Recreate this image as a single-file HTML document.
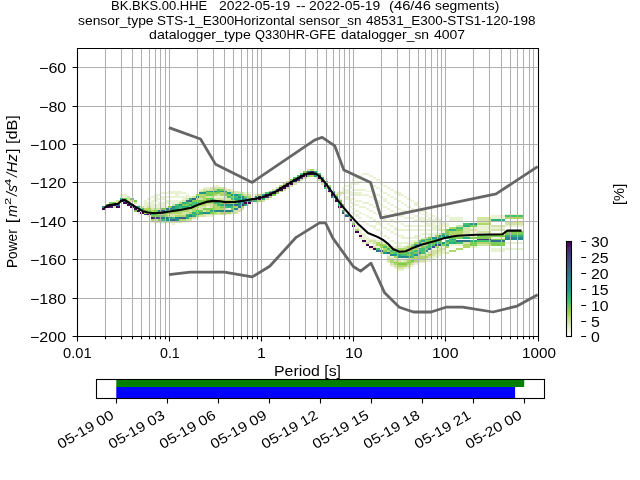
<!DOCTYPE html>
<html><head><meta charset="utf-8"><title>PPSD BK.BKS.00.HHE</title>
<style>
html,body{margin:0;padding:0;background:#fff}
body{width:640px;height:480px;position:relative;overflow:hidden;font-family:"Liberation Sans",sans-serif;color:#000}
.t{position:absolute;white-space:pre;line-height:1;transform-origin:0 0;margin:0;padding:0}
#tx{position:absolute;left:0;top:0;width:640px;height:480px;will-change:transform}
i{font-style:italic}
sup{font-size:70%;vertical-align:baseline;position:relative;top:-0.42em;line-height:0}
</style></head><body>
<svg width="640" height="480" viewBox="0 0 640 480" style="position:absolute;left:0;top:0">
<rect width="640" height="480" fill="#fff"/>
<g shape-rendering="crispEdges">
<path fill="#20968b" d="M154 212h4v2h-4zM165 219h3v2h-3zM168 217h4v2h-4zM172 208h3v2h-3zM175 219h4v2h-4zM179 204h3v2h-3zM199 192h4v2h-4zM203 192h3v2h-3zM206 212h4v2h-4zM210 191h3v1h-3zM213 210h4v2h-4zM213 191h4v1h-4zM220 191h4v1h-4zM224 204h3v2h-3zM227 192h4v2h-4zM227 204h4v2h-4zM231 210h3v2h-3zM231 194h3v2h-3zM234 194h4v2h-4zM238 204h3v2h-3zM238 196h3v2h-3zM238 202h3v2h-3zM241 202h3v2h-3zM241 198h3v2h-3zM241 200h3v2h-3zM244 198h4v2h-4zM248 200h3v2h-3zM255 196h3v2h-3zM262 194h3v2h-3zM314 175h3v2h-3zM383 252h4v2h-4zM394 254h3v2h-3zM397 256h4v2h-4zM407 256h4v2h-4zM414 254h4v2h-4zM418 252h3v2h-3zM425 250h3v2h-3zM432 237h3v2h-3zM435 237h4v2h-4zM439 235h3v2h-3zM442 242h4v2h-4zM442 235h4v2h-4zM102 206h4v2h-4zM120 198h3v2h-3zM127 202h3v2h-3zM130 204h4v2h-4zM470 223h3v2h-3zM473 223h4v2h-4z"/>
<path fill="#25868d" d="M158 210h3v2h-3zM165 208h3v2h-3zM168 219h4v2h-4zM168 208h4v2h-4zM172 206h3v2h-3zM175 217h4v2h-4zM189 215h3v2h-3zM196 196h3v2h-3zM203 212h3v2h-3zM217 210h3v2h-3zM220 210h4v2h-4zM224 210h3v2h-3zM231 204h3v2h-3zM234 208h4v2h-4zM241 196h3v2h-3zM324 183h4v2h-4zM390 254h4v2h-4zM401 256h3v2h-3zM404 256h3v2h-3zM505 237h3v2h-3zM505 239h3v1h-3zM508 237h4v2h-4zM508 239h4v1h-4zM512 237h3v2h-3zM512 239h3v1h-3zM515 237h3v2h-3zM515 239h3v1h-3zM518 237h5v2h-5zM518 239h5v1h-5z"/>
<path fill="#2c748e" d="M161 217h4v2h-4zM161 210h4v2h-4zM165 217h3v2h-3zM186 200h3v2h-3zM196 214h3v1h-3zM227 210h4v2h-4zM238 206h3v2h-3zM272 191h4v1h-4zM276 189h3v2h-3zM307 171h3v2h-3zM331 196h4v2h-4zM376 250h4v2h-4zM387 252h3v2h-3zM428 248h4v2h-4zM116 204h4v2h-4zM123 200h4v2h-4zM456 240h3v2h-3zM459 240h4v2h-4zM463 240h3v2h-3zM466 240h4v2h-4zM491 240h3v2h-3zM494 240h4v2h-4zM498 240h3v2h-3zM501 240h4v2h-4z"/>
<path fill="#2caf7f" d="M137 206h3v2h-3zM151 214h3v1h-3zM158 212h3v2h-3zM165 210h3v2h-3zM175 206h4v2h-4zM175 208h4v2h-4zM182 202h4v2h-4zM182 206h4v2h-4zM186 215h3v2h-3zM186 217h3v2h-3zM186 206h3v2h-3zM189 214h3v1h-3zM189 198h3v2h-3zM189 204h3v2h-3zM192 215h4v2h-4zM192 212h4v2h-4zM196 202h3v2h-3zM199 212h4v2h-4zM206 191h4v1h-4zM210 210h3v2h-3zM220 204h4v2h-4zM224 191h3v1h-3zM227 206h4v2h-4zM234 198h4v2h-4zM238 198h3v2h-3zM244 204h4v2h-4zM244 200h4v2h-4zM251 200h4v2h-4zM262 198h3v2h-3zM314 171h3v2h-3zM321 177h3v2h-3zM328 187h3v2h-3zM335 196h3v2h-3zM338 204h4v2h-4zM342 210h3v2h-3zM397 254h4v2h-4zM414 244h4v2h-4zM418 242h3v2h-3zM421 240h4v2h-4zM425 239h3v1h-3zM428 239h4v1h-4zM134 206h3v2h-3zM446 235h3v2h-3zM446 237h3v2h-3zM446 240h3v2h-3zM446 244h3v2h-3zM449 229h4v2h-4zM449 239h4v1h-4zM449 242h4v2h-4zM453 229h3v2h-3zM453 239h3v1h-3zM453 242h3v2h-3zM463 225h3v2h-3zM463 237h3v2h-3zM466 225h4v2h-4zM466 237h4v2h-4zM470 240h3v2h-3zM473 240h4v2h-4zM491 219h3v2h-3zM494 219h4v2h-4zM498 219h3v2h-3zM501 219h4v2h-4zM505 235h3v2h-3zM508 235h4v2h-4zM512 235h3v2h-3zM515 235h3v2h-3zM518 235h5v2h-5z"/>
<path fill="#34618d" d="M158 217h3v2h-3zM172 219h3v2h-3zM179 217h3v2h-3zM182 217h4v2h-4zM189 200h3v2h-3zM192 198h4v2h-4zM234 204h4v2h-4zM328 189h3v2h-3zM331 192h4v2h-4zM335 198h3v2h-3zM345 215h4v2h-4zM380 250h3v2h-3z"/>
<path fill="#3e4b89" d="M269 192h3v2h-3zM321 179h3v2h-3zM342 212h3v2h-3zM432 246h3v2h-3zM435 244h4v2h-4zM439 244h3v2h-3z"/>
<path fill="#440154" d="M137 210h3v2h-3zM140 212h4v2h-4zM147 214h4v1h-4zM244 202h4v2h-4zM248 202h3v2h-3zM251 198h4v2h-4zM255 198h3v2h-3zM258 196h4v2h-4zM258 198h4v2h-4zM262 196h3v2h-3zM265 194h4v2h-4zM269 194h3v2h-3zM272 192h4v2h-4zM276 191h3v1h-3zM279 189h4v2h-4zM283 185h3v2h-3zM283 187h3v2h-3zM286 183h4v2h-4zM286 185h4v2h-4zM290 181h3v2h-3zM290 183h3v2h-3zM293 179h4v2h-4zM297 177h3v2h-3zM300 175h3v2h-3zM303 173h4v2h-4zM303 175h4v2h-4zM307 173h3v2h-3zM310 173h4v2h-4zM314 173h3v2h-3zM317 177h4v2h-4zM321 181h3v2h-3zM324 185h4v2h-4zM328 191h3v1h-3zM331 194h4v2h-4zM335 200h3v2h-3zM338 206h4v2h-4zM349 219h3v2h-3zM352 225h3v2h-3zM355 231h4v2h-4zM359 235h3v2h-3zM362 240h4v2h-4zM366 244h3v2h-3zM369 246h4v2h-4zM373 248h3v2h-3zM102 208h4v2h-4zM106 206h3v2h-3zM113 204h3v2h-3zM116 206h4v2h-4zM120 200h3v2h-3zM123 202h4v2h-4zM127 204h3v2h-3zM130 206h4v2h-4zM134 208h3v2h-3z"/>
<path fill="#44367f" d="M144 214h3v1h-3zM154 217h4v2h-4zM241 204h3v2h-3zM265 196h4v2h-4zM279 187h4v2h-4zM297 179h3v2h-3zM300 177h3v2h-3zM310 171h4v2h-4zM317 175h4v2h-4zM477 239h3v1h-3zM480 239h4v1h-4zM484 239h3v1h-3zM487 239h4v1h-4z"/>
<path fill="#45c070" d="M140 208h4v2h-4zM161 219h4v2h-4zM172 217h3v2h-3zM175 204h4v2h-4zM179 206h3v2h-3zM179 208h3v2h-3zM186 202h3v2h-3zM186 214h3v1h-3zM192 214h4v1h-4zM192 202h4v2h-4zM192 204h4v2h-4zM196 210h3v2h-3zM210 198h3v2h-3zM213 202h4v2h-4zM217 189h3v2h-3zM217 191h3v1h-3zM217 202h3v2h-3zM217 204h3v2h-3zM224 206h3v2h-3zM227 196h4v2h-4zM231 198h3v2h-3zM231 206h3v2h-3zM234 196h4v2h-4zM238 194h3v2h-3zM248 198h3v2h-3zM255 200h3v2h-3zM265 192h4v2h-4zM293 177h4v2h-4zM297 175h3v2h-3zM300 173h3v2h-3zM317 173h4v2h-4zM324 187h4v2h-4zM324 181h4v2h-4zM331 191h4v1h-4zM338 202h4v2h-4zM345 214h4v1h-4zM376 248h4v2h-4zM383 246h4v2h-4zM387 248h3v2h-3zM390 250h4v2h-4zM394 252h3v2h-3zM401 254h3v2h-3zM404 254h3v2h-3zM407 252h4v2h-4zM411 254h3v2h-3zM411 256h3v2h-3zM411 252h3v2h-3zM414 250h4v2h-4zM418 248h3v2h-3zM418 250h3v2h-3zM421 250h4v2h-4zM421 252h4v2h-4zM421 248h4v2h-4zM425 246h3v2h-3zM428 246h4v2h-4zM428 244h4v2h-4zM432 244h3v2h-3zM432 239h3v1h-3zM435 242h4v2h-4zM435 239h4v1h-4zM439 242h3v2h-3zM439 237h3v2h-3zM442 233h4v2h-4zM449 240h4v2h-4zM453 240h3v2h-3zM456 227h3v2h-3zM456 242h3v2h-3zM459 227h4v2h-4zM459 242h4v2h-4zM463 223h3v2h-3zM466 223h4v2h-4zM477 240h3v2h-3zM480 240h4v2h-4zM484 240h3v2h-3zM487 240h4v2h-4zM505 215h3v2h-3zM508 215h4v2h-4zM512 215h3v2h-3zM515 215h3v2h-3zM518 215h5v2h-5z"/>
<path fill="#461b6b" d="M151 217h3v2h-3zM293 181h4v2h-4zM109 204h4v2h-4zM109 206h4v2h-4z"/>
<path fill="#7ccc50" d="M144 210h3v2h-3zM147 210h4v2h-4zM151 215h3v2h-3zM151 212h3v2h-3zM154 215h4v2h-4zM154 210h4v2h-4zM154 214h4v1h-4zM158 219h3v2h-3zM158 215h3v2h-3zM161 208h4v2h-4zM161 212h4v2h-4zM161 215h4v2h-4zM168 206h4v2h-4zM168 210h4v2h-4zM172 210h3v2h-3zM175 210h4v2h-4zM182 204h4v2h-4zM182 208h4v2h-4zM186 204h3v2h-3zM189 202h3v2h-3zM189 206h3v2h-3zM192 200h4v2h-4zM196 212h3v2h-3zM196 200h3v2h-3zM196 204h3v2h-3zM199 214h4v1h-4zM199 200h4v2h-4zM199 202h4v2h-4zM199 210h4v2h-4zM203 200h3v2h-3zM203 208h3v2h-3zM206 192h4v2h-4zM206 194h4v2h-4zM206 198h4v2h-4zM206 200h4v2h-4zM206 208h4v2h-4zM210 212h3v2h-3zM210 192h3v2h-3zM210 194h3v2h-3zM210 208h3v2h-3zM213 192h4v2h-4zM217 192h3v2h-3zM220 189h4v2h-4zM220 202h4v2h-4zM220 206h4v2h-4zM224 192h3v2h-3zM224 194h3v2h-3zM227 194h4v2h-4zM231 208h3v2h-3zM231 196h3v2h-3zM234 202h4v2h-4zM238 200h3v2h-3zM244 196h4v2h-4zM269 191h3v1h-3zM272 194h4v2h-4zM276 192h3v2h-3zM290 179h3v2h-3zM303 171h4v2h-4zM307 175h3v2h-3zM338 200h4v2h-4zM342 204h3v2h-3zM349 217h3v2h-3zM352 223h3v2h-3zM380 244h3v2h-3zM383 250h4v2h-4zM390 252h4v2h-4zM394 262h3v1h-3zM397 252h4v2h-4zM397 263h4v2h-4zM401 252h3v2h-3zM401 263h3v2h-3zM404 252h3v2h-3zM404 263h3v2h-3zM407 254h4v2h-4zM407 262h4v1h-4zM411 246h3v2h-3zM411 250h3v2h-3zM411 260h3v2h-3zM414 252h4v2h-4zM418 240h3v2h-3zM421 239h4v1h-4zM421 246h4v2h-4zM425 248h3v2h-3zM425 240h3v2h-3zM428 237h4v2h-4zM428 240h4v2h-4zM432 240h3v2h-3zM432 242h3v2h-3zM435 240h4v2h-4zM439 240h3v2h-3zM442 244h4v2h-4zM106 204h3v2h-3zM109 202h4v2h-4zM113 202h3v2h-3zM123 198h4v2h-4zM130 198h4v2h-4zM134 200h3v2h-3zM134 210h3v2h-3zM446 229h3v2h-3zM446 231h3v2h-3zM446 233h3v2h-3zM446 242h3v2h-3zM449 237h4v2h-4zM453 237h3v2h-3zM456 229h3v2h-3zM456 237h3v2h-3zM459 229h4v2h-4zM459 237h4v2h-4zM470 225h3v2h-3zM470 237h3v2h-3zM470 242h3v2h-3zM470 244h3v2h-3zM473 225h4v2h-4zM473 237h4v2h-4zM473 242h4v2h-4zM473 244h4v2h-4zM477 235h3v2h-3zM477 237h3v2h-3zM480 235h4v2h-4zM480 237h4v2h-4zM484 235h3v2h-3zM484 237h3v2h-3zM487 235h4v2h-4zM487 237h4v2h-4zM491 235h3v2h-3zM491 239h3v1h-3zM491 242h3v2h-3zM491 244h3v2h-3zM494 235h4v2h-4zM494 239h4v1h-4zM494 242h4v2h-4zM494 244h4v2h-4zM498 235h3v2h-3zM498 239h3v1h-3zM498 242h3v2h-3zM498 244h3v2h-3zM501 235h4v2h-4zM501 239h4v1h-4zM501 242h4v2h-4zM501 244h4v2h-4zM505 231h3v2h-3zM505 233h3v2h-3zM508 231h4v2h-4zM508 233h4v2h-4zM512 231h3v2h-3zM512 233h3v2h-3zM515 231h3v2h-3zM515 233h3v2h-3zM518 231h5v2h-5zM518 233h5v2h-5z"/>
<path fill="#b0d768" d="M144 212h3v2h-3zM144 208h3v2h-3zM147 208h4v2h-4zM151 219h3v2h-3zM151 210h3v2h-3zM158 214h3v1h-3zM161 214h4v1h-4zM165 212h3v2h-3zM165 214h3v1h-3zM165 215h3v2h-3zM168 212h4v2h-4zM172 212h3v2h-3zM175 212h4v2h-4zM175 215h4v2h-4zM179 215h3v2h-3zM179 219h3v2h-3zM179 202h3v2h-3zM179 210h3v2h-3zM179 212h3v2h-3zM182 215h4v2h-4zM182 219h4v2h-4zM182 210h4v2h-4zM186 208h3v2h-3zM186 210h3v2h-3zM189 217h3v2h-3zM189 208h3v2h-3zM189 212h3v2h-3zM192 206h4v2h-4zM192 208h4v2h-4zM192 210h4v2h-4zM196 215h3v2h-3zM196 194h3v2h-3zM196 206h3v2h-3zM199 194h4v2h-4zM199 196h4v2h-4zM199 204h4v2h-4zM203 191h3v1h-3zM203 194h3v2h-3zM203 196h3v2h-3zM203 198h3v2h-3zM203 202h3v2h-3zM203 204h3v2h-3zM206 210h4v2h-4zM206 202h4v2h-4zM210 200h3v2h-3zM210 202h3v2h-3zM213 208h4v2h-4zM213 212h4v2h-4zM213 189h4v2h-4zM213 194h4v2h-4zM213 200h4v2h-4zM213 204h4v2h-4zM213 206h4v2h-4zM217 208h3v2h-3zM217 200h3v2h-3zM217 206h3v2h-3zM220 208h4v2h-4zM220 212h4v2h-4zM220 192h4v2h-4zM220 194h4v2h-4zM220 200h4v2h-4zM224 212h3v2h-3zM224 200h3v2h-3zM224 202h3v2h-3zM227 212h4v2h-4zM227 200h4v2h-4zM227 202h4v2h-4zM231 192h3v2h-3zM231 200h3v2h-3zM231 202h3v2h-3zM234 206h4v2h-4zM234 200h4v2h-4zM241 206h3v2h-3zM241 194h3v2h-3zM248 196h3v2h-3zM258 194h4v2h-4zM258 200h4v2h-4zM269 196h3v2h-3zM279 191h4v1h-4zM279 185h4v2h-4zM283 183h3v2h-3zM286 181h4v2h-4zM310 169h4v2h-4zM310 175h4v2h-4zM328 185h3v2h-3zM335 194h3v2h-3zM355 229h4v2h-4zM376 242h4v2h-4zM376 244h4v2h-4zM380 246h3v2h-3zM383 244h4v2h-4zM383 248h4v2h-4zM387 250h3v2h-3zM387 246h3v2h-3zM390 248h4v2h-4zM390 260h4v2h-4zM390 262h4v1h-4zM394 256h3v2h-3zM394 250h3v2h-3zM394 263h3v2h-3zM397 248h4v2h-4zM397 250h4v2h-4zM397 262h4v1h-4zM397 265h4v2h-4zM401 248h3v2h-3zM401 250h3v2h-3zM401 262h3v1h-3zM401 265h3v2h-3zM404 248h3v2h-3zM404 262h3v1h-3zM404 265h3v2h-3zM407 246h4v2h-4zM407 250h4v2h-4zM407 260h4v2h-4zM407 263h4v2h-4zM411 244h3v2h-3zM411 258h3v2h-3zM411 262h3v1h-3zM414 256h4v2h-4zM414 248h4v2h-4zM414 258h4v2h-4zM414 260h4v2h-4zM414 242h4v2h-4zM418 254h3v2h-3zM418 256h3v2h-3zM418 258h3v2h-3zM421 242h4v2h-4zM421 256h4v2h-4zM421 258h4v2h-4zM425 244h3v2h-3zM425 256h3v2h-3zM428 242h4v2h-4zM428 254h4v2h-4zM435 246h4v2h-4zM435 235h4v2h-4zM439 239h3v1h-3zM442 237h4v2h-4zM446 246h3v2h-3zM449 227h4v2h-4zM449 231h4v2h-4zM449 233h4v2h-4zM449 250h4v2h-4zM453 227h3v2h-3zM453 231h3v2h-3zM453 233h3v2h-3zM453 250h3v2h-3zM456 231h3v2h-3zM456 233h3v2h-3zM456 248h3v2h-3zM459 231h4v2h-4zM459 233h4v2h-4zM459 248h4v2h-4zM463 244h3v2h-3zM463 246h3v2h-3zM466 244h4v2h-4zM466 246h4v2h-4zM477 223h3v2h-3zM477 242h3v2h-3zM480 223h4v2h-4zM480 242h4v2h-4zM484 223h3v2h-3zM484 242h3v2h-3zM487 223h4v2h-4zM487 242h4v2h-4zM505 217h3v2h-3zM508 217h4v2h-4zM512 217h3v2h-3zM515 217h3v2h-3zM518 217h5v2h-5z"/>
<path fill="#d3e4a6" d="M140 206h4v2h-4zM147 212h4v2h-4zM147 206h4v2h-4zM151 208h3v2h-3zM154 219h4v2h-4zM154 208h4v2h-4zM154 221h4v2h-4zM158 208h3v2h-3zM158 221h3v2h-3zM161 221h4v2h-4zM165 221h3v2h-3zM168 214h4v1h-4zM168 215h4v2h-4zM168 221h4v2h-4zM172 221h3v2h-3zM172 204h3v2h-3zM172 214h3v1h-3zM172 215h3v2h-3zM175 214h4v1h-4zM175 221h4v2h-4zM179 214h3v1h-3zM179 221h3v2h-3zM182 200h4v2h-4zM182 212h4v2h-4zM182 214h4v1h-4zM186 198h3v2h-3zM186 212h3v2h-3zM186 219h3v2h-3zM189 210h3v2h-3zM189 219h3v2h-3zM192 196h4v2h-4zM192 217h4v2h-4zM196 198h3v2h-3zM196 208h3v2h-3zM199 191h4v1h-4zM199 198h4v2h-4zM199 206h4v2h-4zM199 208h4v2h-4zM199 215h4v2h-4zM203 210h3v2h-3zM203 214h3v1h-3zM203 189h3v2h-3zM203 206h3v2h-3zM203 215h3v2h-3zM206 189h4v2h-4zM206 196h4v2h-4zM206 204h4v2h-4zM206 214h4v1h-4zM210 189h3v2h-3zM210 196h3v2h-3zM210 204h3v2h-3zM210 206h3v2h-3zM210 187h3v2h-3zM210 214h3v1h-3zM213 187h4v2h-4zM213 198h4v2h-4zM213 214h4v1h-4zM217 212h3v2h-3zM217 187h3v2h-3zM217 194h3v2h-3zM217 198h3v2h-3zM217 214h3v1h-3zM220 187h4v2h-4zM220 198h4v2h-4zM220 214h4v1h-4zM224 208h3v2h-3zM224 189h3v2h-3zM224 196h3v2h-3zM224 198h3v2h-3zM224 214h3v1h-3zM227 191h4v1h-4zM227 198h4v2h-4zM227 189h4v2h-4zM231 191h3v1h-3zM231 212h3v2h-3zM234 210h4v2h-4zM234 192h4v2h-4zM234 191h4v1h-4zM234 212h4v2h-4zM238 208h3v2h-3zM238 192h3v2h-3zM238 210h3v2h-3zM241 192h3v2h-3zM241 208h3v2h-3zM244 194h4v2h-4zM248 194h3v2h-3zM255 194h3v2h-3zM262 200h3v2h-3zM265 198h4v2h-4zM272 189h4v2h-4zM276 187h3v2h-3zM283 189h3v2h-3zM286 187h4v2h-4zM290 185h3v2h-3zM293 183h4v2h-4zM297 181h3v2h-3zM300 179h3v2h-3zM303 177h4v2h-4zM307 169h3v2h-3zM317 179h4v2h-4zM321 183h3v2h-3zM338 192h4v2h-4zM342 192h3v2h-3zM366 242h3v2h-3zM369 240h4v2h-4zM373 246h3v2h-3zM373 240h3v2h-3zM373 242h3v2h-3zM380 252h3v2h-3zM380 242h3v2h-3zM387 256h3v2h-3zM387 258h3v2h-3zM387 260h3v2h-3zM390 258h4v2h-4zM390 263h4v2h-4zM394 248h3v2h-3zM394 260h3v2h-3zM394 265h3v2h-3zM397 260h4v2h-4zM397 267h4v2h-4zM401 267h3v2h-3zM404 246h3v2h-3zM404 250h3v2h-3zM404 260h3v2h-3zM407 258h4v2h-4zM407 248h4v2h-4zM407 265h4v2h-4zM411 248h3v2h-3zM411 263h3v2h-3zM414 246h4v2h-4zM414 262h4v1h-4zM418 244h3v2h-3zM418 246h3v2h-3zM418 260h3v2h-3zM421 244h4v2h-4zM421 254h4v2h-4zM421 260h4v2h-4zM425 237h3v2h-3zM425 242h3v2h-3zM425 254h3v2h-3zM425 258h3v2h-3zM428 252h4v2h-4zM428 256h4v2h-4zM432 250h3v2h-3zM432 252h3v2h-3zM432 254h3v2h-3zM435 250h4v2h-4zM435 252h4v2h-4zM439 229h3v2h-3zM439 233h3v2h-3zM439 248h3v2h-3zM439 250h3v2h-3zM442 229h4v2h-4zM442 248h4v2h-4zM113 206h3v2h-3zM116 200h4v2h-4zM116 202h4v2h-4zM127 196h3v2h-3zM127 198h3v2h-3zM127 200h3v2h-3zM130 200h4v2h-4zM134 202h3v2h-3zM446 252h3v2h-3zM449 235h4v2h-4zM453 235h3v2h-3zM456 225h3v2h-3zM456 235h3v2h-3zM459 225h4v2h-4zM459 235h4v2h-4zM463 227h3v2h-3zM463 229h3v2h-3zM463 231h3v2h-3zM463 233h3v2h-3zM463 235h3v2h-3zM463 242h3v2h-3zM466 227h4v2h-4zM466 229h4v2h-4zM466 231h4v2h-4zM466 233h4v2h-4zM466 235h4v2h-4zM466 242h4v2h-4zM470 229h3v2h-3zM473 229h4v2h-4zM477 217h3v2h-3zM477 219h3v2h-3zM477 221h3v2h-3zM477 231h3v2h-3zM477 244h3v2h-3zM480 217h4v2h-4zM480 219h4v2h-4zM480 221h4v2h-4zM480 231h4v2h-4zM480 244h4v2h-4zM484 217h3v2h-3zM484 219h3v2h-3zM484 221h3v2h-3zM484 231h3v2h-3zM484 244h3v2h-3zM487 217h4v2h-4zM487 219h4v2h-4zM487 221h4v2h-4zM487 231h4v2h-4zM487 244h4v2h-4zM491 225h3v2h-3zM491 229h3v2h-3zM494 225h4v2h-4zM494 229h4v2h-4zM498 225h3v2h-3zM498 229h3v2h-3zM501 225h4v2h-4zM501 229h4v2h-4zM505 221h3v2h-3zM505 223h3v2h-3zM508 221h4v2h-4zM508 223h4v2h-4zM512 221h3v2h-3zM512 223h3v2h-3zM515 221h3v2h-3zM515 223h3v2h-3zM518 221h5v2h-5zM518 223h5v2h-5z"/>
<path fill="#eaf2d4" d="M137 208h3v2h-3zM137 212h3v2h-3zM137 204h3v2h-3zM140 210h4v2h-4zM144 204h3v2h-3zM144 206h3v2h-3zM144 200h3v2h-3zM144 202h3v2h-3zM147 215h4v2h-4zM147 204h4v2h-4zM147 198h4v2h-4zM147 202h4v2h-4zM151 202h3v2h-3zM151 204h3v2h-3zM151 206h3v2h-3zM151 221h3v2h-3zM151 196h3v2h-3zM151 200h3v2h-3zM154 204h4v2h-4zM154 206h4v2h-4zM154 194h4v2h-4zM154 196h4v2h-4zM154 198h4v2h-4zM154 200h4v2h-4zM158 202h3v2h-3zM158 204h3v2h-3zM158 206h3v2h-3zM158 194h3v2h-3zM158 198h3v2h-3zM161 206h4v2h-4zM161 202h4v2h-4zM161 204h4v2h-4zM161 192h4v2h-4zM161 196h4v2h-4zM161 198h4v2h-4zM165 206h3v2h-3zM165 202h3v2h-3zM165 192h3v2h-3zM165 196h3v2h-3zM165 200h3v2h-3zM168 200h4v2h-4zM168 202h4v2h-4zM168 191h4v1h-4zM168 192h4v2h-4zM168 196h4v2h-4zM172 202h3v2h-3zM172 200h3v2h-3zM172 191h3v1h-3zM172 192h3v2h-3zM172 196h3v2h-3zM172 223h3v2h-3zM175 202h4v2h-4zM175 200h4v2h-4zM175 191h4v1h-4zM175 192h4v2h-4zM175 194h4v2h-4zM175 196h4v2h-4zM179 200h3v2h-3zM179 191h3v1h-3zM179 192h3v2h-3zM179 196h3v2h-3zM182 198h4v2h-4zM182 192h4v2h-4zM182 196h4v2h-4zM182 221h4v2h-4zM186 194h3v2h-3zM186 196h3v2h-3zM186 221h3v2h-3zM189 196h3v2h-3zM196 217h3v2h-3zM199 189h4v2h-4zM203 187h3v2h-3zM206 206h4v2h-4zM206 187h4v2h-4zM206 215h4v2h-4zM210 215h3v2h-3zM213 196h4v2h-4zM213 185h4v2h-4zM217 196h3v2h-3zM217 185h3v2h-3zM220 196h4v2h-4zM224 187h3v2h-3zM227 208h4v2h-4zM227 214h4v1h-4zM231 189h3v2h-3zM238 191h3v1h-3zM244 192h4v2h-4zM248 192h3v2h-3zM248 204h3v2h-3zM251 196h4v2h-4zM255 202h3v2h-3zM262 192h3v2h-3zM314 169h3v2h-3zM314 177h3v2h-3zM321 175h3v2h-3zM324 179h4v2h-4zM328 192h3v2h-3zM335 192h3v2h-3zM338 208h4v2h-4zM338 198h4v2h-4zM338 191h4v1h-4zM338 194h4v2h-4zM342 206h3v2h-3zM342 208h3v2h-3zM342 187h3v2h-3zM342 189h3v2h-3zM342 191h3v1h-3zM345 185h4v2h-4zM345 189h4v2h-4zM345 191h4v1h-4zM345 192h4v2h-4zM345 196h4v2h-4zM345 198h4v2h-4zM349 183h3v2h-3zM349 185h3v2h-3zM349 187h3v2h-3zM349 191h3v1h-3zM349 192h3v2h-3zM349 194h3v2h-3zM349 198h3v2h-3zM349 200h3v2h-3zM349 202h3v2h-3zM349 206h3v2h-3zM349 215h3v2h-3zM352 179h3v2h-3zM352 183h3v2h-3zM352 189h3v2h-3zM352 192h3v2h-3zM352 194h3v2h-3zM352 198h3v2h-3zM352 202h3v2h-3zM352 204h3v2h-3zM352 208h3v2h-3zM352 212h3v2h-3zM352 221h3v2h-3zM355 177h4v2h-4zM355 181h4v2h-4zM355 183h4v2h-4zM355 189h4v2h-4zM355 192h4v2h-4zM355 194h4v2h-4zM355 200h4v2h-4zM355 204h4v2h-4zM355 210h4v2h-4zM355 214h4v1h-4zM355 215h4v2h-4zM355 225h4v2h-4zM355 227h4v2h-4zM359 233h3v2h-3zM359 237h3v2h-3zM359 175h3v2h-3zM359 181h3v2h-3zM359 189h3v2h-3zM359 192h3v2h-3zM359 194h3v2h-3zM359 200h3v2h-3zM359 206h3v2h-3zM359 212h3v2h-3zM359 217h3v2h-3zM359 229h3v2h-3zM359 231h3v2h-3zM362 239h4v1h-4zM362 242h4v2h-4zM362 173h4v2h-4zM362 179h4v2h-4zM362 189h4v2h-4zM362 194h4v2h-4zM362 202h4v2h-4zM362 206h4v2h-4zM362 214h4v1h-4zM362 221h4v2h-4zM362 233h4v2h-4zM362 235h4v2h-4zM362 237h4v2h-4zM366 173h3v2h-3zM366 181h3v2h-3zM366 191h3v1h-3zM366 194h3v2h-3zM366 202h3v2h-3zM366 208h3v2h-3zM366 215h3v2h-3zM366 223h3v2h-3zM366 237h3v2h-3zM366 239h3v1h-3zM366 240h3v2h-3zM369 248h4v2h-4zM369 175h4v2h-4zM369 183h4v2h-4zM369 191h4v1h-4zM369 196h4v2h-4zM369 204h4v2h-4zM369 210h4v2h-4zM369 217h4v2h-4zM369 225h4v2h-4zM369 239h4v1h-4zM369 242h4v2h-4zM373 177h3v2h-3zM373 185h3v2h-3zM373 192h3v2h-3zM373 198h3v2h-3zM373 206h3v2h-3zM373 212h3v2h-3zM373 219h3v2h-3zM373 225h3v2h-3zM373 227h3v2h-3zM373 239h3v1h-3zM373 244h3v2h-3zM376 179h4v2h-4zM376 187h4v2h-4zM376 194h4v2h-4zM376 200h4v2h-4zM376 202h4v2h-4zM376 208h4v2h-4zM376 214h4v1h-4zM376 221h4v2h-4zM376 223h4v2h-4zM376 229h4v2h-4zM376 240h4v2h-4zM376 246h4v2h-4zM380 248h3v2h-3zM380 181h3v2h-3zM380 183h3v2h-3zM380 189h3v2h-3zM380 191h3v1h-3zM380 196h3v2h-3zM380 204h3v2h-3zM380 210h3v2h-3zM380 217h3v2h-3zM380 223h3v2h-3zM380 225h3v2h-3zM380 231h3v2h-3zM380 233h3v2h-3zM380 240h3v2h-3zM383 185h4v2h-4zM383 192h4v2h-4zM383 198h4v2h-4zM383 200h4v2h-4zM383 206h4v2h-4zM383 214h4v1h-4zM383 219h4v2h-4zM383 227h4v2h-4zM383 235h4v2h-4zM383 242h4v2h-4zM387 254h3v2h-3zM387 187h3v2h-3zM387 194h3v2h-3zM387 202h3v2h-3zM387 208h3v2h-3zM387 215h3v2h-3zM387 223h3v2h-3zM387 229h3v2h-3zM387 237h3v2h-3zM387 244h3v2h-3zM387 262h3v1h-3zM390 256h4v2h-4zM390 189h4v2h-4zM390 196h4v2h-4zM390 204h4v2h-4zM390 210h4v2h-4zM390 219h4v2h-4zM390 225h4v2h-4zM390 231h4v2h-4zM390 240h4v2h-4zM390 246h4v2h-4zM390 265h4v2h-4zM394 191h3v1h-3zM394 192h3v2h-3zM394 198h3v2h-3zM394 206h3v2h-3zM394 212h3v2h-3zM394 214h3v1h-3zM394 221h3v2h-3zM394 227h3v2h-3zM394 229h3v2h-3zM394 233h3v2h-3zM394 242h3v2h-3zM394 246h3v2h-3zM394 258h3v2h-3zM394 267h3v2h-3zM397 258h4v2h-4zM397 192h4v2h-4zM397 194h4v2h-4zM397 200h4v2h-4zM397 208h4v2h-4zM397 214h4v1h-4zM397 215h4v2h-4zM397 221h4v2h-4zM397 229h4v2h-4zM397 235h4v2h-4zM397 242h4v2h-4zM397 244h4v2h-4zM397 246h4v2h-4zM397 269h4v2h-4zM401 258h3v2h-3zM401 194h3v2h-3zM401 202h3v2h-3zM401 210h3v2h-3zM401 215h3v2h-3zM401 223h3v2h-3zM401 229h3v2h-3zM401 235h3v2h-3zM401 237h3v2h-3zM401 242h3v2h-3zM401 260h3v2h-3zM401 269h3v2h-3zM401 246h3v2h-3zM404 258h3v2h-3zM404 196h3v2h-3zM404 204h3v2h-3zM404 210h3v2h-3zM404 212h3v2h-3zM404 217h3v2h-3zM404 225h3v2h-3zM404 229h3v2h-3zM404 237h3v2h-3zM404 242h3v2h-3zM404 267h3v2h-3zM407 198h4v2h-4zM407 206h4v2h-4zM407 212h4v2h-4zM407 217h4v2h-4zM407 225h4v2h-4zM407 229h4v2h-4zM407 237h4v2h-4zM407 242h4v2h-4zM407 244h4v2h-4zM407 267h4v2h-4zM411 200h3v2h-3zM411 208h3v2h-3zM411 214h3v1h-3zM411 217h3v2h-3zM411 225h3v2h-3zM411 229h3v2h-3zM411 237h3v2h-3zM411 240h3v2h-3zM411 242h3v2h-3zM411 265h3v2h-3zM414 202h4v2h-4zM414 204h4v2h-4zM414 210h4v2h-4zM414 215h4v2h-4zM414 219h4v2h-4zM414 225h4v2h-4zM414 229h4v2h-4zM414 235h4v2h-4zM414 237h4v2h-4zM414 240h4v2h-4zM414 263h4v2h-4zM418 206h3v2h-3zM418 212h3v2h-3zM418 217h3v2h-3zM418 219h3v2h-3zM418 225h3v2h-3zM418 229h3v2h-3zM418 235h3v2h-3zM418 239h3v1h-3zM418 262h3v1h-3zM421 210h4v2h-4zM421 214h4v1h-4zM421 217h4v2h-4zM421 219h4v2h-4zM421 221h4v2h-4zM421 225h4v2h-4zM421 229h4v2h-4zM421 233h4v2h-4zM421 237h4v2h-4zM421 262h4v1h-4zM425 252h3v2h-3zM425 212h3v2h-3zM425 215h3v2h-3zM425 219h3v2h-3zM425 221h3v2h-3zM425 223h3v2h-3zM425 225h3v2h-3zM425 229h3v2h-3zM425 233h3v2h-3zM425 260h3v2h-3zM428 250h4v2h-4zM428 214h4v1h-4zM428 217h4v2h-4zM428 219h4v2h-4zM428 223h4v2h-4zM428 225h4v2h-4zM428 229h4v2h-4zM428 233h4v2h-4zM428 235h4v2h-4zM428 258h4v2h-4zM428 260h4v2h-4zM432 248h3v2h-3zM432 215h3v2h-3zM432 219h3v2h-3zM432 221h3v2h-3zM432 223h3v2h-3zM432 225h3v2h-3zM432 227h3v2h-3zM432 229h3v2h-3zM432 233h3v2h-3zM432 235h3v2h-3zM432 256h3v2h-3zM432 258h3v2h-3zM435 217h4v2h-4zM435 219h4v2h-4zM435 221h4v2h-4zM435 225h4v2h-4zM435 227h4v2h-4zM435 229h4v2h-4zM435 233h4v2h-4zM435 248h4v2h-4zM435 254h4v2h-4zM435 256h4v2h-4zM439 246h3v2h-3zM439 219h3v2h-3zM439 221h3v2h-3zM439 223h3v2h-3zM439 225h3v2h-3zM439 227h3v2h-3zM439 252h3v2h-3zM439 254h3v2h-3zM442 221h4v2h-4zM442 223h4v2h-4zM442 225h4v2h-4zM442 231h4v2h-4zM442 246h4v2h-4zM442 250h4v2h-4zM442 252h4v2h-4zM120 194h3v2h-3zM120 196h3v2h-3zM123 194h4v2h-4zM123 196h4v2h-4zM446 215h3v2h-3zM446 223h3v2h-3zM446 225h3v2h-3zM449 217h4v2h-4zM449 219h4v2h-4zM449 244h4v2h-4zM453 217h3v2h-3zM453 219h3v2h-3zM453 244h3v2h-3zM456 217h3v2h-3zM456 219h3v2h-3zM456 244h3v2h-3zM459 217h4v2h-4zM459 219h4v2h-4zM459 244h4v2h-4zM470 227h3v2h-3zM470 231h3v2h-3zM470 233h3v2h-3zM470 235h3v2h-3zM470 246h3v2h-3zM473 227h4v2h-4zM473 231h4v2h-4zM473 233h4v2h-4zM473 235h4v2h-4zM473 246h4v2h-4zM477 225h3v2h-3zM477 227h3v2h-3zM477 229h3v2h-3zM477 233h3v2h-3zM480 225h4v2h-4zM480 227h4v2h-4zM480 229h4v2h-4zM480 233h4v2h-4zM484 225h3v2h-3zM484 227h3v2h-3zM484 229h3v2h-3zM484 233h3v2h-3zM487 225h4v2h-4zM487 227h4v2h-4zM487 229h4v2h-4zM487 233h4v2h-4zM491 215h3v2h-3zM491 217h3v2h-3zM491 227h3v2h-3zM491 233h3v2h-3zM491 237h3v2h-3zM491 248h3v2h-3zM491 250h3v2h-3zM494 215h4v2h-4zM494 217h4v2h-4zM494 227h4v2h-4zM494 233h4v2h-4zM494 237h4v2h-4zM494 248h4v2h-4zM494 250h4v2h-4zM498 215h3v2h-3zM498 217h3v2h-3zM498 227h3v2h-3zM498 233h3v2h-3zM498 237h3v2h-3zM498 248h3v2h-3zM498 250h3v2h-3zM501 215h4v2h-4zM501 217h4v2h-4zM501 227h4v2h-4zM501 233h4v2h-4zM501 237h4v2h-4zM501 248h4v2h-4zM501 250h4v2h-4zM505 214h3v1h-3zM505 225h3v2h-3zM505 242h3v2h-3zM505 248h3v2h-3zM508 214h4v1h-4zM508 225h4v2h-4zM508 242h4v2h-4zM508 248h4v2h-4zM512 214h3v1h-3zM512 225h3v2h-3zM512 242h3v2h-3zM512 248h3v2h-3zM515 214h3v1h-3zM515 225h3v2h-3zM515 242h3v2h-3zM515 248h3v2h-3zM518 214h5v1h-5zM518 225h5v2h-5zM518 242h5v2h-5zM518 248h5v2h-5z"/>
</g>
<path d="M105.5 49.0V336.0M121.5 49.0V336.0M132.5 49.0V336.0M141.5 49.0V336.0M149.5 49.0V336.0M155.5 49.0V336.0M160.5 49.0V336.0M165.5 49.0V336.0M169.5 49.0V336.0M197.5 49.0V336.0M213.5 49.0V336.0M224.5 49.0V336.0M233.5 49.0V336.0M241.5 49.0V336.0M247.5 49.0V336.0M252.5 49.0V336.0M257.5 49.0V336.0M261.5 49.0V336.0M289.5 49.0V336.0M305.5 49.0V336.0M317.5 49.0V336.0M326.5 49.0V336.0M333.5 49.0V336.0M339.5 49.0V336.0M344.5 49.0V336.0M349.5 49.0V336.0M353.5 49.0V336.0M381.5 49.0V336.0M397.5 49.0V336.0M409.5 49.0V336.0M418.5 49.0V336.0M425.5 49.0V336.0M431.5 49.0V336.0M437.5 49.0V336.0M441.5 49.0V336.0M445.5 49.0V336.0M473.5 49.0V336.0M489.5 49.0V336.0M501.5 49.0V336.0M510.5 49.0V336.0M517.5 49.0V336.0M523.5 49.0V336.0M529.5 49.0V336.0M533.5 49.0V336.0M77.8 298.5H537.6M77.8 259.5H537.6M77.8 221.5H537.6M77.8 182.5H537.6M77.8 144.5H537.6M77.8 106.5H537.6M77.8 67.5H537.6" stroke="#b0b0b0" stroke-width="1.05" fill="none"/>
<path d="M168.96 127.68L200.52 139.01L215.51 164.16L252.19 182.40L314.55 140.16L322.20 137.28L334.79 145.92L343.85 169.92L370.56 182.40L381.02 217.92L496.13 193.92L537.60 166.60" stroke="#666" stroke-width="2.78" fill="none" stroke-linejoin="round" stroke-linecap="butt"/>
<path d="M168.96 274.56L190.20 272.06L224.45 272.06L252.19 276.86L269.73 266.30L296.16 237.31L319.50 222.91L325.54 222.91L332.83 238.08L353.28 266.50L360.58 271.10L371.08 263.23L384.66 292.80L399.33 307.20L413.48 312.00L431.16 312.00L445.84 307.20L462.72 307.20L492.98 312.00L517.15 306.05L537.60 294.68" stroke="#666" stroke-width="2.78" fill="none" stroke-linejoin="round" stroke-linecap="butt"/>
<path d="M104.30 208.00L107.50 205.60L113.75 204.40L118.10 203.75L121.90 200.20L125.00 200.10L128.75 202.50L132.50 205.00L137.50 208.10L142.50 210.90L147.50 212.50L155.00 213.30L162.50 212.60L171.25 211.25L181.25 209.75L191.25 207.75L198.75 204.40L206.25 201.90L213.75 200.90L220.00 201.25L225.00 202.10L235.00 201.90L245.00 200.60L255.00 198.75L262.50 197.25L270.00 194.40L276.25 191.25L280.00 188.75L287.50 184.40L295.00 180.00L302.50 175.60L307.50 173.50L312.50 172.90L316.25 173.75L320.00 176.90L325.00 182.50L330.00 189.40L335.00 196.25L340.00 203.10L345.00 209.30L349.40 214.40L358.75 224.60L368.00 233.00L377.50 236.90L383.00 239.90L388.00 243.80L393.00 249.00L399.40 251.70L405.60 251.25L413.40 247.80L421.25 244.70L430.60 242.20L436.00 240.70L440.00 239.50L444.40 238.10L450.00 236.90L457.50 235.80L476.25 234.70L502.50 234.30L507.20 230.60L521.50 230.60" stroke="#000" stroke-width="2.08" fill="none" stroke-linejoin="round" stroke-linecap="butt"/>
<path d="M77.5 48.5H538.5V336.5H77.5Z" stroke="#000" stroke-width="1.1" fill="none" stroke-linecap="square"/>
<path d="M77.5 336.5v4.9M105.5 336.5v2.8M121.5 336.5v2.8M132.5 336.5v2.8M141.5 336.5v2.8M149.5 336.5v2.8M155.5 336.5v2.8M160.5 336.5v2.8M165.5 336.5v2.8M169.5 336.5v4.9M197.5 336.5v2.8M213.5 336.5v2.8M224.5 336.5v2.8M233.5 336.5v2.8M241.5 336.5v2.8M247.5 336.5v2.8M252.5 336.5v2.8M257.5 336.5v2.8M261.5 336.5v4.9M289.5 336.5v2.8M305.5 336.5v2.8M317.5 336.5v2.8M326.5 336.5v2.8M333.5 336.5v2.8M339.5 336.5v2.8M344.5 336.5v2.8M349.5 336.5v2.8M353.5 336.5v4.9M381.5 336.5v2.8M397.5 336.5v2.8M409.5 336.5v2.8M418.5 336.5v2.8M425.5 336.5v2.8M431.5 336.5v2.8M437.5 336.5v2.8M441.5 336.5v2.8M445.5 336.5v4.9M473.5 336.5v2.8M489.5 336.5v2.8M501.5 336.5v2.8M510.5 336.5v2.8M517.5 336.5v2.8M523.5 336.5v2.8M529.5 336.5v2.8M533.5 336.5v2.8M538.5 336.5v4.9M77.5 336.5h-4.9M77.5 298.5h-4.9M77.5 259.5h-4.9M77.5 221.5h-4.9M77.5 182.5h-4.9M77.5 144.5h-4.9M77.5 106.5h-4.9M77.5 67.5h-4.9" stroke="#000" stroke-width="1.1" fill="none"/>
<defs><linearGradient id="cb" x1="0" y1="1" x2="0" y2="0">
<stop offset="0.0000" stop-color="#ffffff"/>
<stop offset="0.0167" stop-color="#fbfcf5"/>
<stop offset="0.0333" stop-color="#f7faec"/>
<stop offset="0.0500" stop-color="#f1f7e2"/>
<stop offset="0.0667" stop-color="#ecf3d7"/>
<stop offset="0.0833" stop-color="#e6f0cd"/>
<stop offset="0.1000" stop-color="#e1edc2"/>
<stop offset="0.1167" stop-color="#dce9b8"/>
<stop offset="0.1333" stop-color="#d7e6ad"/>
<stop offset="0.1500" stop-color="#d1e3a2"/>
<stop offset="0.1667" stop-color="#cbdf94"/>
<stop offset="0.1833" stop-color="#c2dc86"/>
<stop offset="0.2000" stop-color="#b9da77"/>
<stop offset="0.2167" stop-color="#b0d768"/>
<stop offset="0.2333" stop-color="#a6d45f"/>
<stop offset="0.2500" stop-color="#9cd256"/>
<stop offset="0.2667" stop-color="#92cf4c"/>
<stop offset="0.2833" stop-color="#82cd4f"/>
<stop offset="0.3000" stop-color="#75cb54"/>
<stop offset="0.3167" stop-color="#68ca5c"/>
<stop offset="0.3333" stop-color="#5cc863"/>
<stop offset="0.3500" stop-color="#4ec36b"/>
<stop offset="0.3667" stop-color="#43bf70"/>
<stop offset="0.3833" stop-color="#3dbb74"/>
<stop offset="0.4000" stop-color="#37b878"/>
<stop offset="0.4167" stop-color="#30b57b"/>
<stop offset="0.4333" stop-color="#2caf7e"/>
<stop offset="0.4500" stop-color="#29aa82"/>
<stop offset="0.4667" stop-color="#26a485"/>
<stop offset="0.4833" stop-color="#229e88"/>
<stop offset="0.5000" stop-color="#1f988b"/>
<stop offset="0.5167" stop-color="#20948c"/>
<stop offset="0.5333" stop-color="#21918c"/>
<stop offset="0.5500" stop-color="#238d8c"/>
<stop offset="0.5667" stop-color="#24898d"/>
<stop offset="0.5833" stop-color="#25868e"/>
<stop offset="0.6000" stop-color="#26828e"/>
<stop offset="0.6167" stop-color="#287e8e"/>
<stop offset="0.6333" stop-color="#2a798e"/>
<stop offset="0.6500" stop-color="#2c758e"/>
<stop offset="0.6667" stop-color="#2d718e"/>
<stop offset="0.6833" stop-color="#2f6c8e"/>
<stop offset="0.7000" stop-color="#31688e"/>
<stop offset="0.7167" stop-color="#33638d"/>
<stop offset="0.7333" stop-color="#355e8c"/>
<stop offset="0.7500" stop-color="#38598c"/>
<stop offset="0.7667" stop-color="#3a548b"/>
<stop offset="0.7833" stop-color="#3c4f8a"/>
<stop offset="0.8000" stop-color="#3e4a89"/>
<stop offset="0.8167" stop-color="#3f4587"/>
<stop offset="0.8333" stop-color="#414084"/>
<stop offset="0.8500" stop-color="#423c82"/>
<stop offset="0.8667" stop-color="#443780"/>
<stop offset="0.8833" stop-color="#46327d"/>
<stop offset="0.9000" stop-color="#472d7b"/>
<stop offset="0.9167" stop-color="#462675"/>
<stop offset="0.9333" stop-color="#461e6e"/>
<stop offset="0.9500" stop-color="#461768"/>
<stop offset="0.9667" stop-color="#451061"/>
<stop offset="0.9833" stop-color="#44085b"/>
<stop offset="1.0000" stop-color="#440154"/>
</linearGradient></defs>
<rect x="566.5" y="241.5" width="5" height="95" fill="url(#cb)" stroke="#000" stroke-width="1.1"/>
<path d="M581.2 336.5h4.9M581.2 321.5h4.9M581.2 305.5h4.9M581.2 289.5h4.9M581.2 273.5h4.9M581.2 257.5h4.9M581.2 241.5h4.9" stroke="#000" stroke-width="1.1" fill="none"/>
<rect x="116.3" y="380" width="407.9" height="7" fill="#008000"/>
<rect x="116.3" y="387" width="398.8" height="11.2" fill="#0000ff"/>
<rect x="96.5" y="379.5" width="448" height="19" fill="none" stroke="#000" stroke-width="1.1"/>
<path d="M116.5 398.5v4.9M167.5 398.5v4.9M218.5 398.5v4.9M269.5 398.5v4.9M320.5 398.5v4.9M371.5 398.5v4.9M422.5 398.5v4.9M473.5 398.5v4.9M524.5 398.5v4.9" stroke="#000" stroke-width="1.1" fill="none"/>
</svg>
<div id="tx">
<div class="t" style="left:110.55px;top:10.40px;width:0;height:0;transform:rotate(0deg)"><div class="t" style="left:0.00px;top:-10.75px;font-size:12.70px;transform:scaleX(1.0268)">BK.BKS.00.HHE   </div></div>
<div class="t" style="left:219.30px;top:10.40px;width:0;height:0;transform:rotate(0deg)"><div class="t" style="left:0.00px;top:-10.75px;font-size:12.70px;transform:scaleX(1.0990)">2022-05-19 </div></div>
<div class="t" style="left:295.55px;top:10.40px;width:0;height:0;transform:rotate(0deg)"><div class="t" style="left:0.00px;top:-10.75px;font-size:12.70px;transform:scaleX(1.1407)">-- </div></div>
<div class="t" style="left:308.80px;top:10.40px;width:0;height:0;transform:rotate(0deg)"><div class="t" style="left:0.00px;top:-10.75px;font-size:12.70px;transform:scaleX(1.0990)">2022-05-19  </div></div>
<div class="t" style="left:388.80px;top:10.40px;width:0;height:0;transform:rotate(0deg)"><div class="t" style="left:0.00px;top:-10.75px;font-size:12.70px;transform:scaleX(1.1635)">(46/46 </div></div>
<div class="t" style="left:434.80px;top:10.40px;width:0;height:0;transform:rotate(0deg)"><div class="t" style="left:0.00px;top:-10.75px;font-size:12.70px;transform:scaleX(1.0862)">segments)</div></div>
<div class="t" style="left:78.05px;top:25.30px;width:0;height:0;transform:rotate(0deg)"><div class="t" style="left:0.00px;top:-10.75px;font-size:12.70px;transform:scaleX(1.0934)">sensor_type </div></div>
<div class="t" style="left:157.30px;top:25.30px;width:0;height:0;transform:rotate(0deg)"><div class="t" style="left:0.00px;top:-10.75px;font-size:12.70px;transform:scaleX(1.0616)">STS-1_E300Horizontal </div></div>
<div class="t" style="left:299.30px;top:25.30px;width:0;height:0;transform:rotate(0deg)"><div class="t" style="left:0.00px;top:-10.75px;font-size:12.70px;transform:scaleX(1.0692)">sensor_sn </div></div>
<div class="t" style="left:365.55px;top:25.30px;width:0;height:0;transform:rotate(0deg)"><div class="t" style="left:0.00px;top:-10.75px;font-size:12.70px;transform:scaleX(1.0678)">48531_E300-STS1-120-198</div></div>
<div class="t" style="left:148.80px;top:40.10px;width:0;height:0;transform:rotate(0deg)"><div class="t" style="left:0.00px;top:-10.75px;font-size:12.70px;transform:scaleX(1.1187)">datalogger_type </div></div>
<div class="t" style="left:254.80px;top:40.10px;width:0;height:0;transform:rotate(0deg)"><div class="t" style="left:0.00px;top:-10.75px;font-size:12.70px;transform:scaleX(1.0144)">Q330HR-GFE </div></div>
<div class="t" style="left:341.30px;top:40.10px;width:0;height:0;transform:rotate(0deg)"><div class="t" style="left:0.00px;top:-10.75px;font-size:12.70px;transform:scaleX(1.0950)">datalogger_sn </div></div>
<div class="t" style="left:433.80px;top:40.10px;width:0;height:0;transform:rotate(0deg)"><div class="t" style="left:0.00px;top:-10.75px;font-size:12.70px;transform:scaleX(1.1025)">4007</div></div>
<div class="t" style="left:66.20px;top:341.70px;width:0;height:0;transform:rotate(0deg)"><div class="t" style="left:-36.10px;top:-11.94px;font-size:14.10px;transform:scaleX(1.1366)">−200</div></div>
<div class="t" style="left:66.20px;top:303.70px;width:0;height:0;transform:rotate(0deg)"><div class="t" style="left:-36.10px;top:-11.94px;font-size:14.10px;transform:scaleX(1.1366)">−180</div></div>
<div class="t" style="left:66.20px;top:264.70px;width:0;height:0;transform:rotate(0deg)"><div class="t" style="left:-36.10px;top:-11.94px;font-size:14.10px;transform:scaleX(1.1366)">−160</div></div>
<div class="t" style="left:66.20px;top:226.70px;width:0;height:0;transform:rotate(0deg)"><div class="t" style="left:-36.10px;top:-11.94px;font-size:14.10px;transform:scaleX(1.1366)">−140</div></div>
<div class="t" style="left:66.20px;top:187.70px;width:0;height:0;transform:rotate(0deg)"><div class="t" style="left:-36.10px;top:-11.94px;font-size:14.10px;transform:scaleX(1.1366)">−120</div></div>
<div class="t" style="left:66.20px;top:149.70px;width:0;height:0;transform:rotate(0deg)"><div class="t" style="left:-36.10px;top:-11.94px;font-size:14.10px;transform:scaleX(1.1366)">−100</div></div>
<div class="t" style="left:66.20px;top:111.70px;width:0;height:0;transform:rotate(0deg)"><div class="t" style="left:-27.30px;top:-11.94px;font-size:14.10px;transform:scaleX(1.1414)">−80</div></div>
<div class="t" style="left:66.20px;top:72.70px;width:0;height:0;transform:rotate(0deg)"><div class="t" style="left:-27.30px;top:-11.94px;font-size:14.10px;transform:scaleX(1.1414)">−60</div></div>
<div class="t" style="left:77.70px;top:357.60px;width:0;height:0;transform:rotate(0deg)"><div class="t" style="left:-14.30px;top:-11.94px;font-size:14.10px;transform:scaleX(1.0422)">0.01</div></div>
<div class="t" style="left:169.70px;top:357.60px;width:0;height:0;transform:rotate(0deg)"><div class="t" style="left:-9.90px;top:-11.94px;font-size:14.10px;transform:scaleX(1.0101)">0.1</div></div>
<div class="t" style="left:261.70px;top:357.60px;width:0;height:0;transform:rotate(0deg)"><div class="t" style="left:-4.40px;top:-11.94px;font-size:14.10px;transform:scaleX(1.1222)">1</div></div>
<div class="t" style="left:353.70px;top:357.60px;width:0;height:0;transform:rotate(0deg)"><div class="t" style="left:-8.85px;top:-11.94px;font-size:14.10px;transform:scaleX(1.1285)">10</div></div>
<div class="t" style="left:445.70px;top:357.60px;width:0;height:0;transform:rotate(0deg)"><div class="t" style="left:-13.25px;top:-11.94px;font-size:14.10px;transform:scaleX(1.1264)">100</div></div>
<div class="t" style="left:538.70px;top:357.60px;width:0;height:0;transform:rotate(0deg)"><div class="t" style="left:-16.95px;top:-11.94px;font-size:14.10px;transform:scaleX(1.0807)">1000</div></div>
<div class="t" style="left:273.60px;top:375.60px;width:0;height:0;transform:rotate(0deg)"><div class="t" style="left:0.00px;top:-11.94px;font-size:14.10px;transform:scaleX(1.1249)">Period [s]</div></div>
<div class="t" style="left:17.40px;top:268.10px;width:0;height:0;transform:rotate(-90deg)"><div class="t" style="left:0.00px;top:-11.94px;font-size:14.10px;transform:scaleX(0.9683)">Power </div></div>
<div class="t" style="left:17.40px;top:223.30px;width:0;height:0;transform:rotate(-90deg)"><div class="t" style="left:0.00px;top:-11.94px;font-size:14.10px;transform:scaleX(1.1000)">[</div></div>
<div class="t" style="left:17.40px;top:217.00px;width:0;height:0;transform:rotate(-90deg)"><div class="t" style="left:0.00px;top:-11.94px;font-size:14.10px;transform:scaleX(1.0216)"><i>m</i></div></div>
<div class="t" style="left:11.40px;top:205.30px;width:0;height:0;transform:rotate(-90deg)"><div class="t" style="left:0.00px;top:-8.35px;font-size:9.87px;transform:scaleX(1.3298)">2</div></div>
<div class="t" style="left:17.40px;top:196.40px;width:0;height:0;transform:rotate(-90deg)"><div class="t" style="left:0.00px;top:-11.94px;font-size:14.10px;transform:scaleX(1.0030)"><i>/s</i></div></div>
<div class="t" style="left:11.40px;top:185.60px;width:0;height:0;transform:rotate(-90deg)"><div class="t" style="left:0.00px;top:-8.35px;font-size:9.87px;transform:scaleX(1.3298)">4</div></div>
<div class="t" style="left:17.40px;top:177.30px;width:0;height:0;transform:rotate(-90deg)"><div class="t" style="left:0.00px;top:-11.94px;font-size:14.10px;transform:scaleX(1.0827)"><i>/Hz</i></div></div>
<div class="t" style="left:17.40px;top:153.40px;width:0;height:0;transform:rotate(-90deg)"><div class="t" style="left:0.00px;top:-11.94px;font-size:14.10px;transform:scaleX(1.1000)">] </div></div>
<div class="t" style="left:17.40px;top:144.30px;width:0;height:0;transform:rotate(-90deg)"><div class="t" style="left:0.00px;top:-11.94px;font-size:14.10px;transform:scaleX(1.1522)">[dB]</div></div>
<div class="t" style="left:590.80px;top:341.70px;width:0;height:0;transform:rotate(0deg)"><div class="t" style="left:0.00px;top:-11.94px;font-size:14.10px;transform:scaleX(1.1273)">0</div></div>
<div class="t" style="left:590.80px;top:326.70px;width:0;height:0;transform:rotate(0deg)"><div class="t" style="left:0.00px;top:-11.94px;font-size:14.10px;transform:scaleX(1.1273)">5</div></div>
<div class="t" style="left:590.80px;top:310.70px;width:0;height:0;transform:rotate(0deg)"><div class="t" style="left:0.00px;top:-11.94px;font-size:14.10px;transform:scaleX(1.1273)">10</div></div>
<div class="t" style="left:590.80px;top:294.70px;width:0;height:0;transform:rotate(0deg)"><div class="t" style="left:0.00px;top:-11.94px;font-size:14.10px;transform:scaleX(1.1273)">15</div></div>
<div class="t" style="left:590.80px;top:278.70px;width:0;height:0;transform:rotate(0deg)"><div class="t" style="left:0.00px;top:-11.94px;font-size:14.10px;transform:scaleX(1.1273)">20</div></div>
<div class="t" style="left:590.80px;top:262.70px;width:0;height:0;transform:rotate(0deg)"><div class="t" style="left:0.00px;top:-11.94px;font-size:14.10px;transform:scaleX(1.1273)">25</div></div>
<div class="t" style="left:590.80px;top:246.70px;width:0;height:0;transform:rotate(0deg)"><div class="t" style="left:0.00px;top:-11.94px;font-size:14.10px;transform:scaleX(1.1273)">30</div></div>
<div class="t" style="left:624.40px;top:205.20px;width:0;height:0;transform:rotate(-90deg)"><div class="t" style="left:0.00px;top:-11.94px;font-size:14.10px;transform:scaleX(1.0456)">[%]</div></div>
<div class="t" style="left:115.30px;top:418.50px;width:0;height:0;transform:rotate(-30deg)"><div class="t" style="left:-62.40px;top:-11.77px;font-size:13.90px;transform:scaleX(1.1371)">05-19 00</div></div>
<div class="t" style="left:166.30px;top:418.50px;width:0;height:0;transform:rotate(-30deg)"><div class="t" style="left:-62.40px;top:-11.77px;font-size:13.90px;transform:scaleX(1.1371)">05-19 03</div></div>
<div class="t" style="left:217.30px;top:418.50px;width:0;height:0;transform:rotate(-30deg)"><div class="t" style="left:-62.40px;top:-11.77px;font-size:13.90px;transform:scaleX(1.1371)">05-19 06</div></div>
<div class="t" style="left:268.30px;top:418.50px;width:0;height:0;transform:rotate(-30deg)"><div class="t" style="left:-62.40px;top:-11.77px;font-size:13.90px;transform:scaleX(1.1371)">05-19 09</div></div>
<div class="t" style="left:319.30px;top:418.50px;width:0;height:0;transform:rotate(-30deg)"><div class="t" style="left:-62.40px;top:-11.77px;font-size:13.90px;transform:scaleX(1.1371)">05-19 12</div></div>
<div class="t" style="left:370.30px;top:418.50px;width:0;height:0;transform:rotate(-30deg)"><div class="t" style="left:-62.40px;top:-11.77px;font-size:13.90px;transform:scaleX(1.1371)">05-19 15</div></div>
<div class="t" style="left:421.30px;top:418.50px;width:0;height:0;transform:rotate(-30deg)"><div class="t" style="left:-62.40px;top:-11.77px;font-size:13.90px;transform:scaleX(1.1371)">05-19 18</div></div>
<div class="t" style="left:472.30px;top:418.50px;width:0;height:0;transform:rotate(-30deg)"><div class="t" style="left:-62.40px;top:-11.77px;font-size:13.90px;transform:scaleX(1.1371)">05-19 21</div></div>
<div class="t" style="left:523.30px;top:418.50px;width:0;height:0;transform:rotate(-30deg)"><div class="t" style="left:-62.40px;top:-11.77px;font-size:13.90px;transform:scaleX(1.1371)">05-20 00</div></div>
</div>
</body></html>
